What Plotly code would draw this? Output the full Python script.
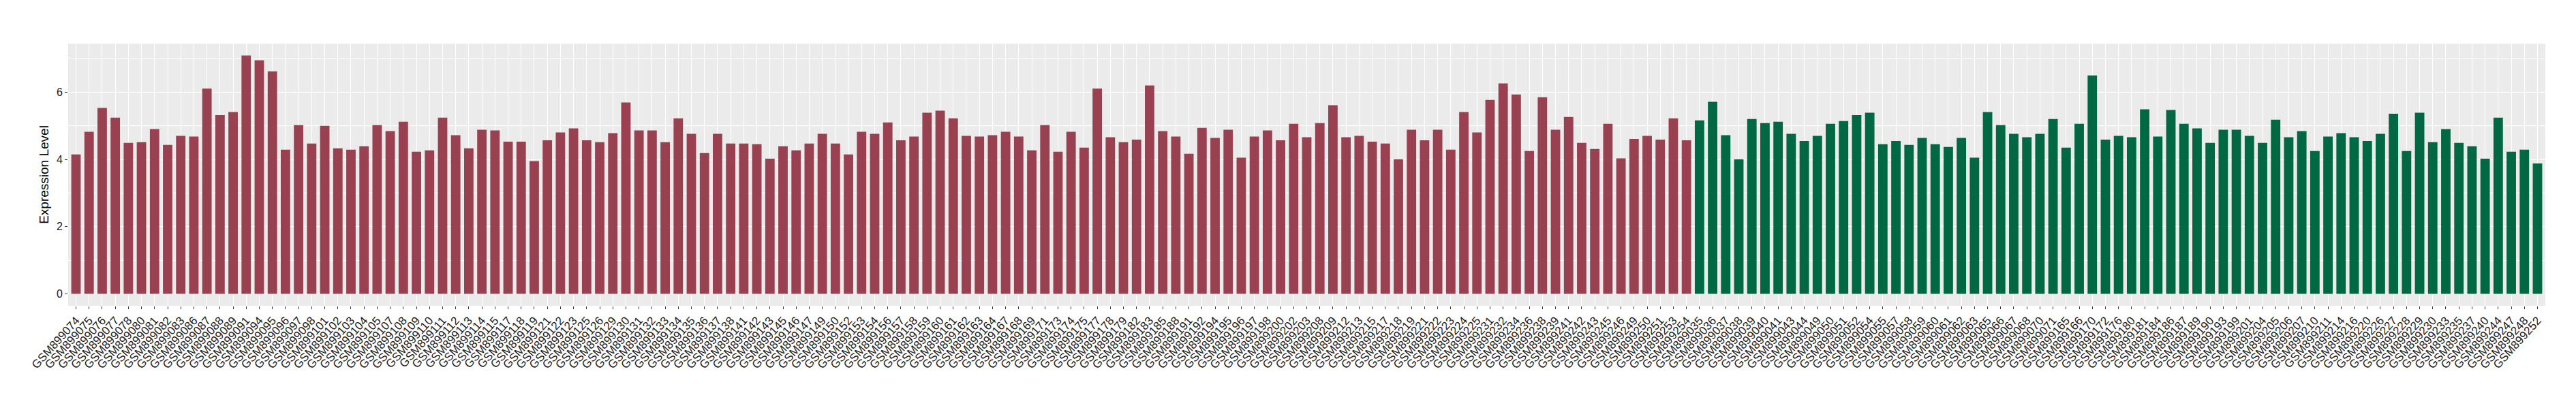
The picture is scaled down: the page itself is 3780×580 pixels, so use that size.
import plotly.graph_objects as go

group_a_samples = [
    "GSM899074","GSM899075","GSM899076","GSM899077","GSM899078","GSM899080","GSM899081","GSM899082","GSM899083","GSM899086",
    "GSM899087","GSM899088","GSM899089","GSM899091","GSM899094","GSM899095","GSM899096","GSM899097","GSM899098","GSM899101",
    "GSM899102","GSM899103","GSM899104","GSM899105","GSM899107","GSM899108","GSM899109","GSM899110","GSM899111","GSM899112",
    "GSM899113","GSM899114","GSM899115","GSM899117","GSM899118","GSM899119","GSM899121","GSM899122","GSM899123","GSM899125",
    "GSM899126","GSM899129","GSM899130","GSM899131","GSM899132","GSM899133","GSM899134","GSM899135","GSM899136","GSM899137",
    "GSM899138","GSM899141","GSM899142","GSM899143","GSM899145","GSM899146","GSM899147","GSM899149","GSM899150","GSM899152",
    "GSM899153","GSM899154","GSM899156","GSM899157","GSM899158","GSM899159","GSM899160","GSM899161","GSM899162","GSM899163",
    "GSM899164","GSM899167","GSM899168","GSM899169","GSM899171","GSM899173","GSM899174","GSM899175","GSM899177","GSM899178",
    "GSM899179","GSM899182","GSM899183","GSM899185","GSM899188","GSM899191","GSM899192","GSM899194","GSM899195","GSM899196",
    "GSM899197","GSM899198","GSM899200","GSM899202","GSM899203","GSM899208","GSM899209","GSM899212","GSM899213","GSM899215",
    "GSM899217","GSM899218","GSM899219","GSM899221","GSM899222","GSM899223","GSM899224","GSM899225","GSM899231","GSM899232",
    "GSM899234","GSM899236","GSM899238","GSM899239","GSM899241","GSM899242","GSM899243","GSM899245","GSM899246","GSM899249",
    "GSM899250","GSM899251","GSM899253","GSM899254",
]
group_a_values = [
    4.15, 4.82, 5.53, 5.24, 4.49, 4.51, 4.90, 4.43, 4.70, 4.68,
    6.11, 5.32, 5.41, 7.09, 6.95, 6.62, 4.29, 5.02, 4.47, 5.00,
    4.33, 4.29, 4.39, 5.02, 4.84, 5.12, 4.23, 4.27, 5.24, 4.72,
    4.33, 4.88, 4.86, 4.53, 4.53, 3.95, 4.57, 4.80, 4.92, 4.57,
    4.51, 4.78, 5.69, 4.86, 4.86, 4.51, 5.22, 4.76, 4.19, 4.76,
    4.47, 4.47, 4.45, 4.02, 4.39, 4.27, 4.47, 4.76, 4.47, 4.15,
    4.82, 4.76, 5.10, 4.57, 4.68, 5.39, 5.45, 5.22, 4.70, 4.68,
    4.72, 4.82, 4.68, 4.27, 5.02, 4.23, 4.82, 4.35, 6.11, 4.66,
    4.51, 4.59, 6.20, 4.84, 4.68, 4.17, 4.94, 4.64, 4.88, 4.05,
    4.68, 4.86, 4.57, 5.06, 4.66, 5.08, 5.61, 4.66, 4.70, 4.53,
    4.47, 4.00, 4.88, 4.57, 4.88, 4.29, 5.41, 4.80, 5.77, 6.26,
    5.93, 4.25, 5.85, 4.88, 5.26, 4.49, 4.31, 5.06, 4.03, 4.61,
    4.70, 4.59, 5.22, 4.57,
]

group_b_samples = [
    "GSM899035","GSM899036","GSM899037","GSM899038","GSM899039","GSM899040","GSM899041","GSM899043","GSM899044","GSM899049",
    "GSM899050","GSM899051","GSM899052","GSM899054","GSM899055","GSM899057","GSM899058","GSM899059","GSM899060","GSM899061",
    "GSM899062","GSM899063","GSM899065","GSM899066","GSM899067","GSM899068","GSM899070","GSM899071","GSM899165","GSM899166",
    "GSM899170","GSM899172","GSM899176","GSM899180","GSM899181","GSM899184","GSM899186","GSM899187","GSM899189","GSM899190",
    "GSM899193","GSM899199","GSM899201","GSM899204","GSM899205","GSM899206","GSM899207","GSM899210","GSM899211","GSM899214",
    "GSM899216","GSM899220","GSM899226","GSM899227","GSM899228","GSM899229","GSM899230","GSM899233","GSM899235","GSM899237",
    "GSM899240","GSM899244","GSM899247","GSM899248","GSM899252",
]
group_b_values = [
    5.16, 5.71, 4.72, 4.00, 5.20, 5.08, 5.12, 4.76, 4.55, 4.70,
    5.06, 5.14, 5.32, 5.39, 4.45, 4.55, 4.43, 4.64, 4.45, 4.37,
    4.64, 4.05, 5.41, 5.02, 4.76, 4.66, 4.76, 5.20, 4.35, 5.06,
    6.50, 4.59, 4.70, 4.66, 5.49, 4.68, 5.47, 5.06, 4.92, 4.49,
    4.88, 4.88, 4.70, 4.49, 5.18, 4.66, 4.84, 4.25, 4.68, 4.78,
    4.66, 4.55, 4.76, 5.36, 4.25, 5.39, 4.51, 4.90, 4.49, 4.39,
    4.02, 5.24, 4.23, 4.29, 3.88,
]

color_a = "#9A4151"
color_b = "#016844"

all_samples = group_a_samples + group_b_samples
n = len(all_samples)
ymax = max(group_a_values + group_b_values)

fig = go.Figure()
fig.add_trace(go.Bar(x=group_a_samples, y=group_a_values, marker=dict(color=color_a, line=dict(width=0)),
                     width=0.72, showlegend=False))
fig.add_trace(go.Bar(x=group_b_samples, y=group_b_values, marker=dict(color=color_b, line=dict(width=0)),
                     width=0.72, showlegend=False))

fig.update_layout(
    width=3780, height=580,
    margin=dict(l=92, r=53, t=56, b=139),
    paper_bgcolor="white",
    plot_bgcolor="#EBEBEB",
    font=dict(family="Liberation Sans, Arial, sans-serif", color="black"),
    bargap=0.28,
    xaxis=dict(
        type="category",
        categoryorder="array", categoryarray=all_samples,
        tickmode="array", tickvals=all_samples, ticktext=all_samples,
        range=[-0.6, n - 1 + 0.6],
        showgrid=True, gridcolor="white", gridwidth=1.1,
        ticks="outside", ticklen=4, tickcolor="#333333", tickwidth=1,
        tickangle=-48, tickfont=dict(size=17, color="#222222"),
        zeroline=False, showline=False, automargin=False,
    ),
    yaxis=dict(
        range=[-0.05 * ymax, ymax * 1.05],
        tickvals=[0, 2, 4, 6],
        showgrid=True, gridcolor="white", gridwidth=1.1,
        minor=dict(tickvals=[1, 3, 5, 7], showgrid=True, gridcolor="white", gridwidth=0.55, ticks=""),
        ticks="outside", ticklen=4, tickcolor="#333333", tickwidth=1,
        tickfont=dict(size=16, color="#1a1a1a"),
        zeroline=False, showline=False, automargin=False,
        title=dict(text="Expression Level", font=dict(size=19, color="black"), standoff=6),
    ),
)

fig.write_html("out.html")
